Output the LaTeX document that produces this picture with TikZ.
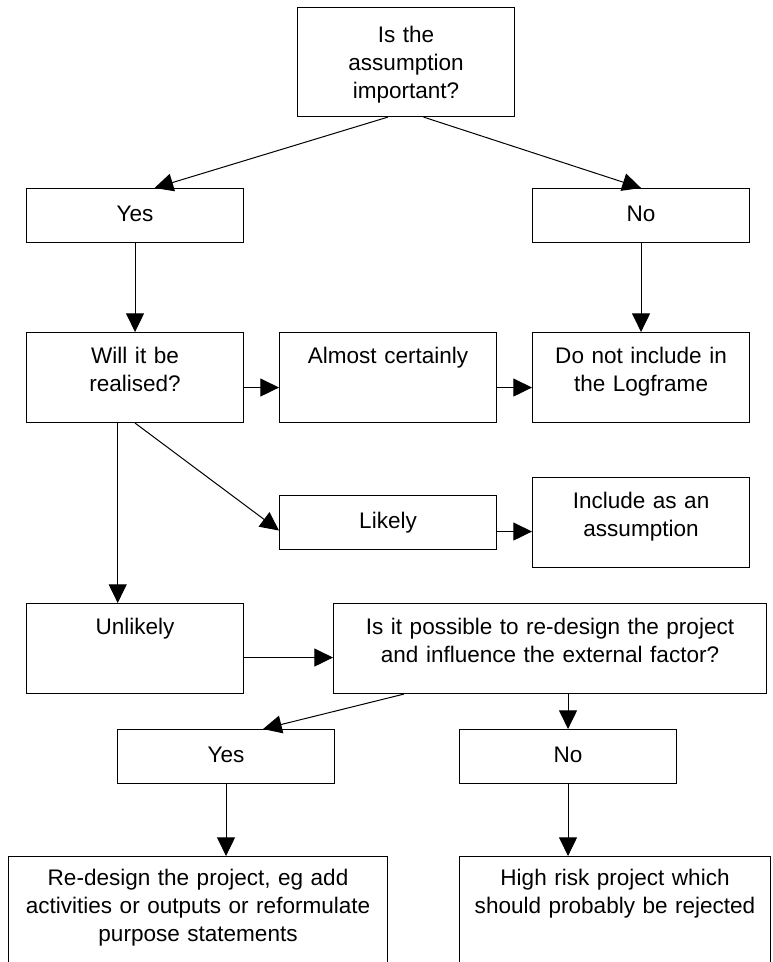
\documentclass[tikz,border=0pt]{standalone}
\usepackage{fontspec}
\setmainfont{Liberation Sans}
\usetikzlibrary{arrows.meta}
\tikzset{
	box/.style={draw, line width=0.8pt, inner sep=0pt, align=center,
		text width=162.75pt, text height=23.25pt, text depth=#1,
		font=\fontsize{16.9pt}{21pt}\selectfont, anchor=north west},
	box/.default=44.25pt,
	answer/.style={box, text height=25pt, text depth=15.5pt},
	link/.style={->, line width=0.75pt}
}

\begin{document}
\begin{tikzpicture}[x=0.75pt, y=-0.75pt, >={Triangle[length=14pt,width=13.5pt]}]
	\useasboundingbox (0,0) rectangle (772,962);
	\clip (0,0) rectangle (772,962);
	\node[box=55.5pt, text height=26.25pt] (imp) at (297,7) {Is the\\assumption\\important?};
	\node[answer] (yes1) at (26,188) {Yes};
	\node[answer] (no1) at (532,188) {No};
	\node[box] (will) at (26,332) {Will it be\\realised?};
	\node[box] (almost) at (279,332) {Almost certainly};
	\node[box] (donot) at (532,332) {Do not include in\\the Logframe};
	\node[answer] (likely) at (279,495) {Likely};
	\node[box] (include) at (532,477) {Include as an\\assumption};
	\node[box] (unlikely) at (26,603) {Unlikely};
	\node[box, text width=324.75pt] (question) at (333,603) {Is it possible to re-design the project\\and influence the external factor?};
	\node[answer] (yes2) at (117,729) {Yes};
	\node[answer] (no2) at (459,729) {No};
	\node[box=86.25pt, text height=21.75pt, text width=284.25pt] (redesign) at (8,856) {Re-design the project, eg add\\activities or outputs or reformulate\\purpose statements};
	\node[box=86.25pt, text height=21.75pt, text width=233.25pt] (highrisk) at (459,856) {High risk project which\\should probably be rejected};
	\draw[link] ([xshift=-13.5pt]imp.south) -- ([xshift=14.6pt]yes1.north);
	\draw[link] ([xshift=13.1pt]imp.south) -- (no1.north);
	\draw[link] (yes1.south) -- (will.north);
	\draw[link] (no1.south) -- (donot.north);
	\draw[link] ([yshift=-7.5pt]will.east) -- ([yshift=-7.5pt]almost.west);
	\draw[link] ([yshift=-7.5pt]almost.east) -- ([yshift=-7.5pt]donot.west);
	\draw[link] (will.south) -- ([yshift=-6pt]likely.west);
	\draw[link] ([yshift=-6.75pt]likely.east) -- ([yshift=-6.75pt]include.west);
	\draw[link] ([xshift=-13pt]will.south) -- ([xshift=-13pt]unlikely.north);
	\draw[link] ([yshift=-6.75pt]unlikely.east) -- ([yshift=-6.75pt]question.west);
	\draw[link] ([xshift=53.25pt]question.south west) -- ([xshift=27.75pt]yes2.north);
	\draw[link] (no2.north |- question.south) -- (no2.north);
	\draw[link] (yes2.south) -- (yes2.south |- redesign.north);
	\draw[link] (no2.south) -- (no2.south |- highrisk.north);
\end{tikzpicture}
\end{document}
